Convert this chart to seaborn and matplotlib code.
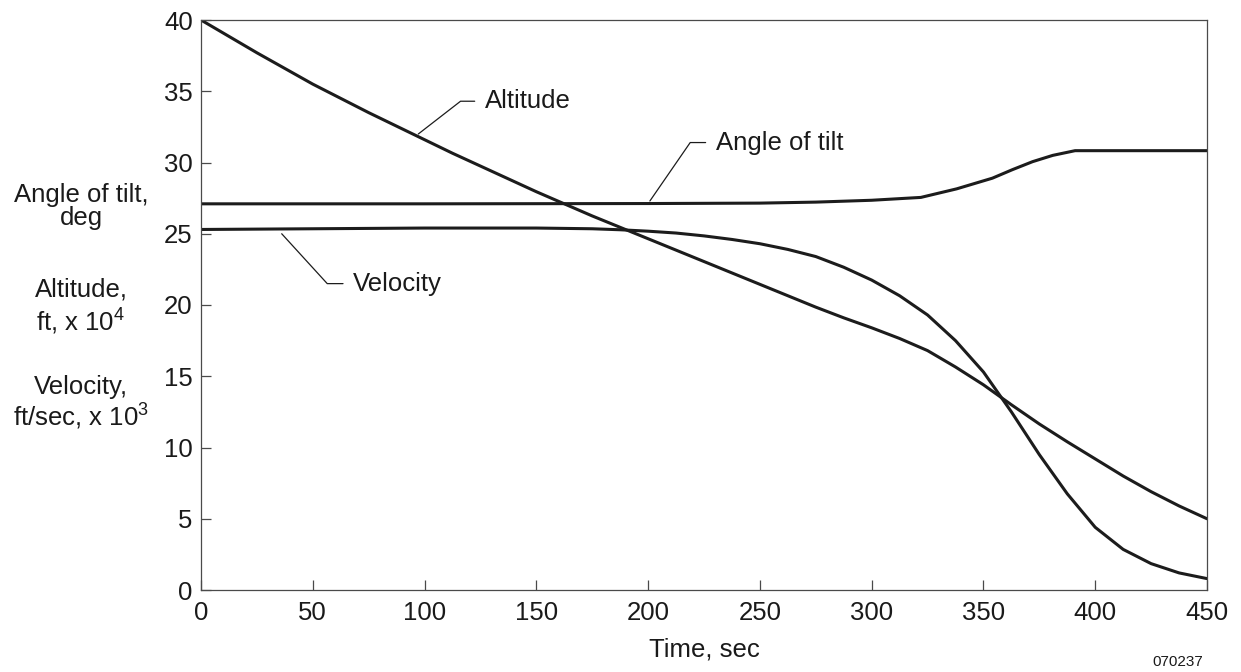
import matplotlib
matplotlib.use("Agg")
import matplotlib.pyplot as plt
import seaborn as sns
import pandas as pd

# ---- data ----
alt_time = [0, 12.5, 25, 37.5, 50, 62.5, 75, 87.5, 100, 112.5, 125, 137.5, 150, 162.5, 175, 187.5,
            200, 212.5, 225, 237.5, 250, 262.5, 275, 287.5, 300, 312.5, 325, 337.5, 350, 362.5,
            375, 387.5, 400, 412.5, 425, 437.5, 450]
altitude = [40.0, 38.85, 37.7, 36.6, 35.5, 34.5, 33.5, 32.55, 31.6, 30.65, 29.75, 28.85, 27.95, 27.1,
            26.25, 25.45, 24.65, 23.85, 23.05, 22.25, 21.45, 20.65, 19.85, 19.1, 18.4, 17.65, 16.8,
            15.65, 14.4, 13.0, 11.65, 10.4, 9.2, 8.0, 6.9, 5.9, 5.0]

vel_time = [0, 50, 100, 150, 175, 187.5, 200, 212.5, 225, 237.5, 250, 262.5, 275, 287.5, 300, 312.5,
            325, 337.5, 350, 362.5, 375, 387.5, 400, 412.5, 425, 437.5, 450]
velocity = [25.3, 25.35, 25.4, 25.4, 25.35, 25.28, 25.18, 25.05, 24.85, 24.6, 24.3, 23.9, 23.4, 22.65,
            21.75, 20.65, 19.3, 17.5, 15.3, 12.5, 9.5, 6.75, 4.4, 2.85, 1.85, 1.2, 0.8]

tilt_time = [0, 100, 200, 250, 275, 300, 322, 338, 354, 363, 372, 381, 391, 450]
tilt = [27.1, 27.1, 27.12, 27.15, 27.22, 27.35, 27.55, 28.15, 28.9, 29.5, 30.06, 30.5, 30.83, 30.83]

x_ticks = [0, 50, 100, 150, 200, 250, 300, 350, 400, 450]
y_ticks = [0, 5, 10, 15, 20, 25, 30, 35, 40]

series_labels = ["Altitude", "Angle of tilt", "Velocity"]
y_label_lines = ["Angle of tilt,", "deg", "Altitude,", "ft, x 10$^4$", "Velocity,", "ft/sec, x 10$^3$"]
x_label = "Time, sec"
fig_code = "070237"

# ---- style ----
sns.set_theme(style="ticks")
plt.rcParams["font.family"] = ["Liberation Sans", "DejaVu Sans"]
plt.rcParams["mathtext.default"] = "regular"

FS = 18.5
LINE = "#1c1c1c"
SPINE = "#4a4a4a"

fig = plt.figure(figsize=(12.41, 6.72), dpi=100)
ax = fig.add_axes([201 / 1241, 1 - 590 / 672, (1207 - 201) / 1241, (590 - 20) / 672])

df_alt = pd.DataFrame({"t": alt_time, "v": altitude})
df_vel = pd.DataFrame({"t": vel_time, "v": velocity})
df_tilt = pd.DataFrame({"t": tilt_time, "v": tilt})
for d in (df_alt, df_vel, df_tilt):
    sns.lineplot(data=d, x="t", y="v", ax=ax, color=LINE, linewidth=2.2, estimator=None)
for ln in ax.lines:
    ln.set_solid_joinstyle("round")

ax.set_xlim(0, 450)
ax.set_ylim(0, 40)
ax.set_xticks(x_ticks)
ax.set_yticks(y_ticks)
ax.set_xticklabels([str(v) for v in x_ticks])
ax.set_yticklabels([str(v) for v in y_ticks])
ax.tick_params(axis="both", direction="in", length=7, width=0.9, color=SPINE,
               labelsize=FS, labelcolor="#1a1a1a")
ax.tick_params(axis="x", pad=8)
ax.tick_params(axis="y", pad=6)
for s in ax.spines.values():
    s.set_visible(True)
    s.set_color(SPINE)
    s.set_linewidth(0.9)
ax.set_xlabel(x_label, fontsize=FS, color="#1a1a1a", labelpad=9)
ax.set_ylabel("")

# ---- leader-line annotations ----
def leader(text, xy, xytext, angleB):
    ax.annotate(text, xy=xy, xytext=xytext, textcoords="data", ha="left", va="center",
                fontsize=FS, color="#1a1a1a",
                arrowprops=dict(arrowstyle="-", color=LINE, lw=0.9, relpos=(0, 0.5),
                                shrinkA=5, shrinkB=0,
                                connectionstyle=f"angle,angleA=0,angleB={angleB},rad=0"))

leader(series_labels[0], (97.2, 32.0), (127.0, 34.3), 37.8)
leader(series_labels[1], (200.8, 27.3), (230.3, 31.4), 55.4)
leader(series_labels[2], (36.1, 25.0), (68.1, 21.5), -47.6)

# ---- left-side block label ----
y_px = [195, 218, 290, 322, 387, 417]
for txt, yp in zip(y_label_lines, y_px):
    fig.text(81 / 1241, 1 - yp / 672, txt, ha="center", va="center", fontsize=FS, color="#1a1a1a")

fig.text(1203 / 1241, 1 - 662 / 672, fig_code, ha="right", va="center", fontsize=11, color="#1a1a1a")

fig.savefig("out.png", dpi=100, facecolor="white")
